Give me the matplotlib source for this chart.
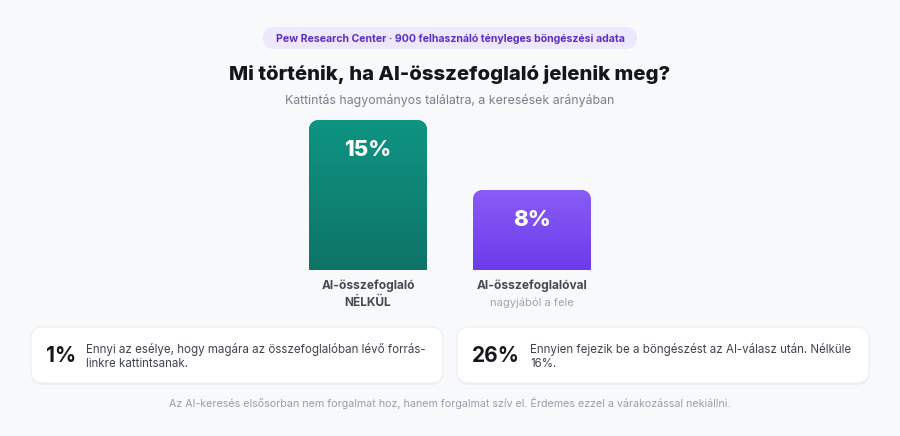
import numpy as np
import matplotlib
matplotlib.use("Agg")
import matplotlib.pyplot as plt
from matplotlib.patches import FancyBboxPatch, PathPatch
from matplotlib.path import Path
from matplotlib.colors import LinearSegmentedColormap

plt.rcParams['font.family'] = ['Inter', 'DejaVu Sans']

# data
categories = ["AI-összefoglaló\nNÉLKÜL", "AI-összefoglalóval"]
subnotes = ["", "nagyjából a fele"]
values = [15, 8]
value_labels = ["15%", "8%"]
bar_colors = [("#0f9482", "#0e7467"), ("#8a5cf6", "#6b3bea")]

card_values = ["1%", "26%"]
card_texts = [
    "Ennyi az esélye, hogy magára az összefoglalóban lévő forrás-\nlinkre kattintsanak.",
    "Ennyien fejezik be a böngészést az AI-válasz után. Nélküle\n16%.",
]

badge = "Pew Research Center · 900 felhasználó tényleges böngészési adata"
title = "Mi történik, ha AI-összefoglaló jelenik meg?"
subtitle = "Kattintás hagyományos találatra, a keresések arányában"
footer = "Az AI-keresés elsősorban nem forgalmat hoz, hanem forgalmat szív el. Érdemes ezzel a várakozással nekiállni."

W, H = 900, 436
BG = "#f8f9fb"

fig = plt.figure(figsize=(W / 100, H / 100), dpi=100, facecolor=BG)

# full-figure axes in pixel units for the layout pieces
ax = fig.add_axes([0, 0, 1, 1])
ax.set_xlim(0, W)
ax.set_ylim(H, 0)
ax.axis("off")

# badge
ax.add_patch(FancyBboxPatch((263, 27), 374, 22, boxstyle="round,pad=0,rounding_size=11",
                            fc="#ede8fd", ec="none"))
ax.text(450, 38.5, badge, ha="center", va="center", fontsize=7.6, fontweight="bold", color="#5b2fc0")

ax.text(450, 75, title, ha="center", va="center", fontsize=14.6, fontweight="heavy", color="#14161c")
ax.text(450, 100, subtitle, ha="center", va="center", fontsize=8.9, color="#7b7f8c")

# cards
card_x = [31, 457]
for i in range(2):
    x0 = card_x[i]
    ax.add_patch(FancyBboxPatch((x0, 329), 412, 56, boxstyle="round,pad=0,rounding_size=12",
                                fc="#eef0f4", ec="none"))
    ax.add_patch(FancyBboxPatch((x0, 327), 412, 56, boxstyle="round,pad=0,rounding_size=12",
                                fc="white", ec="#eceef2", lw=0.8))
    ax.text(x0 + 15, 356, card_values[i], ha="left", va="center", fontsize=15, fontweight="bold",
            color="#15171d")
    tx = x0 + 55 if i == 0 else x0 + 73
    lines = card_texts[i].split("\n")
    for j, line in enumerate(lines):
        ax.text(tx, 349 + 15 * j, line, ha="left", va="center", fontsize=8.3, color="#3f434d")

ax.text(450, 403, footer, ha="center", va="center", fontsize=7.7, color="#9a9dab")

# bar axes: baseline at y=270px, 10px per percent
bx0, bx1 = 286, 614
by0, by1 = 270, 120
bax = fig.add_axes([bx0 / W, 1 - by0 / H, (bx1 - bx0) / W, (by0 - by1) / H])
bax.set_xlim(-0.5, 1.5)
bax.set_ylim(0, 15)
bax.axis("off")
bax.patch.set_alpha(0)

width = 118 / 164
xs = np.arange(len(values))
bars = bax.bar(xs, values, width=width, color="none")

fig.canvas.draw()
px_x = (bax.transData.transform((1, 0))[0] - bax.transData.transform((0, 0))[0])
px_y = (bax.transData.transform((0, 1))[1] - bax.transData.transform((0, 0))[1])
r = 9
rx, ry = r / px_x, r / px_y
k = 0.55

for i, b in enumerate(bars):
    x0, y0 = b.get_x(), b.get_y()
    x1, y1 = x0 + b.get_width(), y0 + b.get_height()
    verts = [(x0, y0), (x0, y1 - ry),
             (x0, y1 - ry * (1 - k)), (x0 + rx * (1 - k), y1), (x0 + rx, y1),
             (x1 - rx, y1),
             (x1 - rx * (1 - k), y1), (x1, y1 - ry * (1 - k)), (x1, y1 - ry),
             (x1, y0), (x0, y0)]
    codes = [Path.MOVETO, Path.LINETO, Path.CURVE4, Path.CURVE4, Path.CURVE4,
             Path.LINETO, Path.CURVE4, Path.CURVE4, Path.CURVE4, Path.LINETO, Path.CLOSEPOLY]
    clip = PathPatch(Path(verts, codes), fc="none", ec="none", transform=bax.transData)
    bax.add_patch(clip)
    cmap = LinearSegmentedColormap.from_list("g%d" % i, [bar_colors[i][1], bar_colors[i][0]])
    grad = np.linspace(0, 1, 256).reshape(-1, 1)
    im = bax.imshow(grad, extent=[x0, x1, y0, y1], origin="lower", aspect="auto", cmap=cmap)
    im.set_clip_path(clip)
    bax.text(xs[i], values[i] - 2.95, value_labels[i], ha="center", va="center", fontsize=16,
             fontweight="heavy", color="white")

bax.set_xlim(-0.5, 1.5)
bax.set_ylim(0, 15)

# category labels below bars
for i in range(len(categories)):
    xc = 368 + 164 * i
    for j, line in enumerate(categories[i].split("\n")):
        ax.text(xc, 286 + 17 * j, line, ha="center", va="center", fontsize=8.6, fontweight="bold",
                color="#454954")
    if subnotes[i]:
        ax.text(xc, 303, subnotes[i], ha="center", va="center", fontsize=8, color="#a0a3ae")

fig.savefig("out.png", dpi=100, facecolor=BG)
